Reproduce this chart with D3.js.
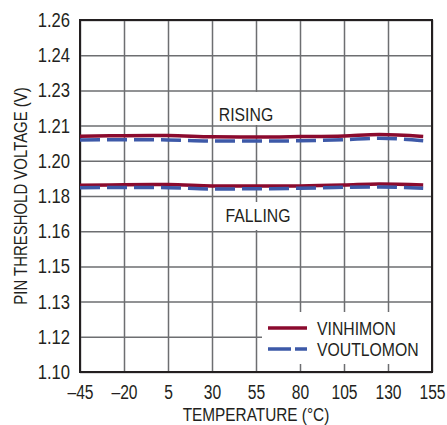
<!DOCTYPE html>
<html>
<head>
<meta charset="utf-8">
<script src="https://cdn.jsdelivr.net/npm/d3@7"></script>
<style>
  body { margin: 0; background: #fff; }
  svg { display: block; }
  text { font-family: "Liberation Sans", Arial, sans-serif; fill: #231f20; }
</style>
</head>
<body>
<svg id="chart" width="447" height="425"></svg>
<script>
var temps = [-45, -20, 5, 30, 55, 80, 105, 125, 150];
var vinhimonRise  = [1.2072, 1.2074, 1.2075, 1.2069, 1.2068, 1.2070, 1.2073, 1.2079, 1.2071];
var voutlomonRise = [1.2055, 1.2056, 1.2055, 1.2050, 1.2050, 1.2051, 1.2056, 1.2062, 1.2051];
var vinhimonFall  = [1.1849, 1.1851, 1.1852, 1.1846, 1.1845, 1.1846, 1.1850, 1.1855, 1.1850];
var voutlomonFall = [1.1838, 1.1839, 1.1838, 1.1832, 1.1833, 1.1835, 1.1840, 1.1841, 1.1835];

var xTicks = [-45, -20, 5, 30, 55, 80, 105, 130, 155];
var yTicks = [1.100, 1.116, 1.132, 1.148, 1.164, 1.180, 1.196, 1.212, 1.228, 1.244, 1.260];
var yTickLabels = ["1.10", "1.12", "1.13", "1.15", "1.16", "1.18", "1.20", "1.21", "1.23", "1.24", "1.26"];

var svg = d3.select("#chart"),
    margin = {top: 20, right: 15, bottom: 53, left: 80},
    width = +svg.attr("width") - margin.left - margin.right,
    height = +svg.attr("height") - margin.top - margin.bottom;

var x = d3.scaleLinear().domain([-45, 155]).range([0, width]);
var y = d3.scaleLinear().domain([1.10, 1.26]).range([height, 0]);

var g = svg.append("g")
    .attr("transform", "translate(" + margin.left + "," + margin.top + ")");

// grid
g.append("g")
    .call(d3.axisBottom(x).tickValues(xTicks).tickSize(-height).tickFormat(""))
    .attr("transform", "translate(0," + height + ")")
    .call(function(s) {
      s.select(".domain").remove();
      s.selectAll("line").attr("stroke", "#6d6e71").attr("stroke-width", 1.5);
    });
g.append("g")
    .call(d3.axisLeft(y).tickValues(yTicks).tickSize(-width).tickFormat(""))
    .call(function(s) {
      s.select(".domain").remove();
      s.selectAll("line").attr("stroke", "#6d6e71").attr("stroke-width", 1.5);
    });

// white boxes behind labels and legend
g.append("rect").attr("x", 134).attr("y", 72).attr("width", 64).attr("height", 33).attr("fill", "#fff");
g.append("rect").attr("x", 143).attr("y", 182).attr("width", 70).attr("height", 28).attr("fill", "#fff");
g.append("rect").attr("x", 182).attr("y", 292).attr("width", 170).attr("height", 52).attr("fill", "#fff");

// frame
g.append("rect")
    .attr("width", width).attr("height", height)
    .attr("fill", "none").attr("stroke", "#231f20").attr("stroke-width", 2);

// tick labels
g.append("g")
    .attr("class", "xticks")
    .attr("transform", "translate(0," + height + ")")
    .call(d3.axisBottom(x).tickValues(xTicks).tickSize(0).tickPadding(13)
      .tickFormat(function(d) { return d < 0 ? "\u2013" + Math.abs(d) : d; }))
    .call(function(s) {
      s.select(".domain").remove();
      s.selectAll("text").attr("font-size", 20).attr("fill", "#231f20")
        .attr("font-family", "'Liberation Sans', Arial, sans-serif");
    });
g.append("g")
    .call(d3.axisLeft(y).tickValues(yTicks).tickSize(0).tickPadding(10)
      .tickFormat(function(d, i) { return yTickLabels[i]; }))
    .call(function(s) {
      s.select(".domain").remove();
      s.selectAll("text").attr("font-size", 20).attr("fill", "#231f20")
        .attr("font-family", "'Liberation Sans', Arial, sans-serif");
    });

// axis titles
svg.append("text")
    .attr("x", margin.left + width / 2).attr("y", 421)
    .attr("text-anchor", "middle").attr("font-size", 18.5)
    .text("TEMPERATURE (\u00b0C)");
svg.append("text")
    .attr("transform", "translate(27," + (margin.top + height / 2) + ") rotate(-90)")
    .attr("text-anchor", "middle").attr("font-size", 18)
    .text("PIN THRESHOLD VOLTAGE (V)");

// lines
var line = d3.line()
    .x(function(d, i) { return x(temps[i]); })
    .y(function(d) { return y(d); })
    .curve(d3.curveMonotoneX);

[vinhimonRise, vinhimonFall].forEach(function(s) {
  g.append("path").datum(s).attr("d", line)
    .attr("fill", "none").attr("stroke", "#8b0a2e").attr("stroke-width", 3.5);
});
[voutlomonRise, voutlomonFall].forEach(function(s) {
  g.append("path").datum(s).attr("d", line)
    .attr("fill", "none").attr("stroke", "#3d59a8").attr("stroke-width", 3.5)
    .attr("stroke-dasharray", "20,7");
});

// labels
g.append("text").attr("x", 166).attr("y", 101).attr("text-anchor", "middle")
    .attr("font-size", 19).text("RISING");
g.append("text").attr("x", 178).attr("y", 202).attr("text-anchor", "middle")
    .attr("font-size", 19).text("FALLING");

// legend
var legend = g.append("g").attr("transform", "translate(188,308)");
legend.append("line").attr("x1", 0).attr("x2", 39).attr("y1", 0).attr("y2", 0)
    .attr("stroke", "#8b0a2e").attr("stroke-width", 3.5);
legend.append("line").attr("x1", 0).attr("x2", 39).attr("y1", 21).attr("y2", 21)
    .attr("stroke", "#3d59a8").attr("stroke-width", 3.5).attr("stroke-dasharray", "23,4");
legend.append("text").attr("x", 49).attr("y", 7).attr("font-size", 19).text("VINHIMON");
legend.append("text").attr("x", 49).attr("y", 28).attr("font-size", 19).text("VOUTLOMON");

// narrow all text to mimic the condensed face
svg.selectAll("text").each(function() {
  var len = this.getComputedTextLength();
  var k = this.closest(".xticks") ? 0.78 : 0.83;
  if (len > 0) {
    d3.select(this).attr("textLength", len * k).attr("lengthAdjust", "spacingAndGlyphs");
  }
});
</script>
</body>
</html>
